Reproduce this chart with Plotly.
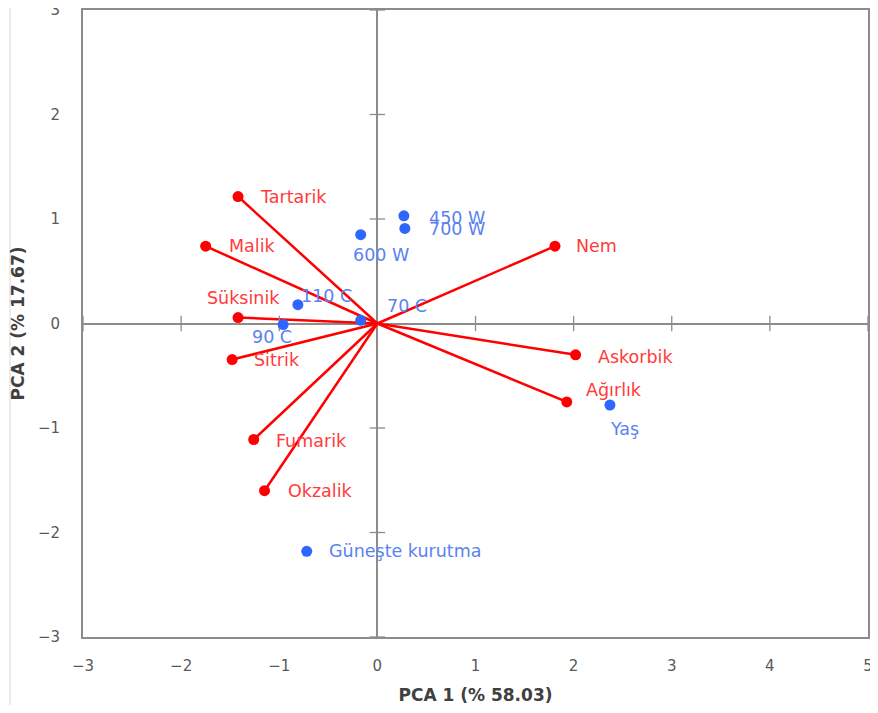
import plotly.graph_objects as go

# Variables (red loadings)
var_names = ["Tartarik", "Malik", "Süksinik", "Sitrik", "Fumarik", "Okzalik", "Nem", "Askorbik", "Ağırlık"]
var_x = [-1.42, -1.75, -1.42, -1.48, -1.26, -1.15, 1.81, 2.02, 1.93]
var_y = [1.215, 0.74, 0.057, -0.345, -1.11, -1.60, 0.74, -0.30, -0.75]

# Observations (blue scores)
obs_names = ["450 W", "700 W", "600 W", "110 C", "90 C", "70 C", "Yaş", "Güneşte kurutma"]
obs_x = [0.27, 0.28, -0.17, -0.81, -0.96, -0.17, 2.37, -0.72]
obs_y = [1.03, 0.91, 0.85, 0.18, -0.01, 0.03, -0.78, -2.18]

x_ticks = [-3, -2, -1, 0, 1, 2, 3, 4, 5]
y_ticks = [-3, -2, -1, 0, 1, 2, 3]

RED = "#ff0000"
RED_T = "#ff3b3b"
BLUE = "#2f66ff"
BLUE_T = "#5a82f0"
FONT = "DejaVu Sans"
LAB_SIZE = 17.5

# label placement styles: (xanchor, yanchor, xshift, yshift)
var_lab = {
    "Tartarik": ("left", "middle", 20, 0),
    "Malik": ("left", "middle", 21, 0),
    "Süksinik": ("center", "middle", 5, 20),
    "Sitrik": ("left", "middle", 20, 0),
    "Fumarik": ("left", "middle", 20, -1),
    "Okzalik": ("left", "middle", 21, 0),
    "Nem": ("left", "middle", 19, 0),
    "Askorbik": ("left", "middle", 20, -2),
    "Ağırlık": ("left", "middle", 17, 12),
}
obs_lab = {
    "450 W": ("left", "middle", 23, -2),
    "700 W": ("left", "middle", 22, -1),
    "600 W": ("center", "middle", 20, -20),
    "110 C": ("left", "middle", 1, 9),
    "90 C": ("center", "middle", -11, -12),
    "70 C": ("left", "middle", 24, 14),
    "Yaş": ("center", "middle", 15, -24),
    "Güneşte kurutma": ("left", "middle", 20, 0),
}

fig = go.Figure()

# loading vectors from origin
lx, ly = [], []
for x, y in zip(var_x, var_y):
    lx += [0, x, None]
    ly += [0, y, None]
fig.add_trace(go.Scatter(x=lx, y=ly, mode="lines", line=dict(color=RED, width=2.5),
                         hoverinfo="skip", showlegend=False))

# tick marks on the zero lines
fig.add_trace(go.Scatter(x=[t for t in x_ticks if t != 0], y=[0] * (len(x_ticks) - 1), mode="markers",
                         marker=dict(symbol="line-ns", size=11, line=dict(color="#8c8c8c", width=1.3)),
                         hoverinfo="skip", showlegend=False, cliponaxis=False))
fig.add_trace(go.Scatter(x=[0] * (len(y_ticks) - 1), y=[t for t in y_ticks if t != 0], mode="markers",
                         marker=dict(symbol="line-ew", size=11, line=dict(color="#8c8c8c", width=1.3)),
                         hoverinfo="skip", showlegend=False, cliponaxis=False))

fig.add_trace(go.Scatter(x=var_x, y=var_y, mode="markers", marker=dict(color=RED, size=11),
                         text=var_names, showlegend=False))
fig.add_trace(go.Scatter(x=obs_x, y=obs_y, mode="markers", marker=dict(color=BLUE, size=11),
                         text=obs_names, showlegend=False))

for n, x, y in zip(var_names, var_x, var_y):
    xa, ya, xs, ys = var_lab[n]
    fig.add_annotation(x=x, y=y, text=n, showarrow=False, xanchor=xa, yanchor=ya,
                       xshift=xs, yshift=ys, font=dict(family=FONT, size=LAB_SIZE, color=RED_T))
for n, x, y in zip(obs_names, obs_x, obs_y):
    xa, ya, xs, ys = obs_lab[n]
    fig.add_annotation(x=x, y=y, text=n, showarrow=False, xanchor=xa, yanchor=ya,
                       xshift=xs, yshift=ys, font=dict(family=FONT, size=LAB_SIZE, color=BLUE_T))

# page body has an 8px margin: figure is placed at (8, 8) in the window
W, H = 862, 697
ML, MR, MT, MB = 75, 2, 2, 68
PW, PH = W - ML - MR, H - MT - MB

# faint outer border line on the left of the original picture
fig.add_shape(type="line", xref="paper", yref="paper",
              x0=(2 - ML) / PW, x1=(2 - ML) / PW, y0=-(MB + 2) / PH, y1=(PH + MT + 2) / PH,
              line=dict(color="#e6e6e6", width=1.5), layer="below")

fig.update_layout(
    width=W, height=H,
    margin=dict(l=ML, r=MR, t=MT, b=MB, autoexpand=False),
    paper_bgcolor="white", plot_bgcolor="white",
    font=dict(family=FONT, color="#595959"),
    xaxis=dict(range=[-3, 5], tickvals=x_ticks, showgrid=False, automargin=False,
               zeroline=True, zerolinecolor="#8c8c8c", zerolinewidth=1.5,
               showline=True, linecolor="#8c8c8c", linewidth=2, mirror=True,
               ticks="outside", ticklen=14, tickcolor="rgba(0,0,0,0)",
               ticklabeloverflow="allow",
               tickfont=dict(family=FONT, size=15, color="#595959"),
               title=dict(text="<b>PCA 1 (% 58.03)</b>", standoff=16,
                          font=dict(family=FONT, size=17, color="#404040"))),
    yaxis=dict(range=[-3, 3], tickvals=y_ticks, showgrid=False, automargin=False,
               zeroline=True, zerolinecolor="#8c8c8c", zerolinewidth=1.5,
               showline=True, linecolor="#8c8c8c", linewidth=2, mirror=True,
               ticks="outside", ticklen=18, tickcolor="rgba(0,0,0,0)",
               ticklabeloverflow="allow",
               tickfont=dict(family=FONT, size=15, color="#595959"),
               title=dict(text="<b>PCA 2 (% 17.67)</b>", standoff=12,
                          font=dict(family=FONT, size=17, color="#404040"))),
)

fig.write_html("out.html")
